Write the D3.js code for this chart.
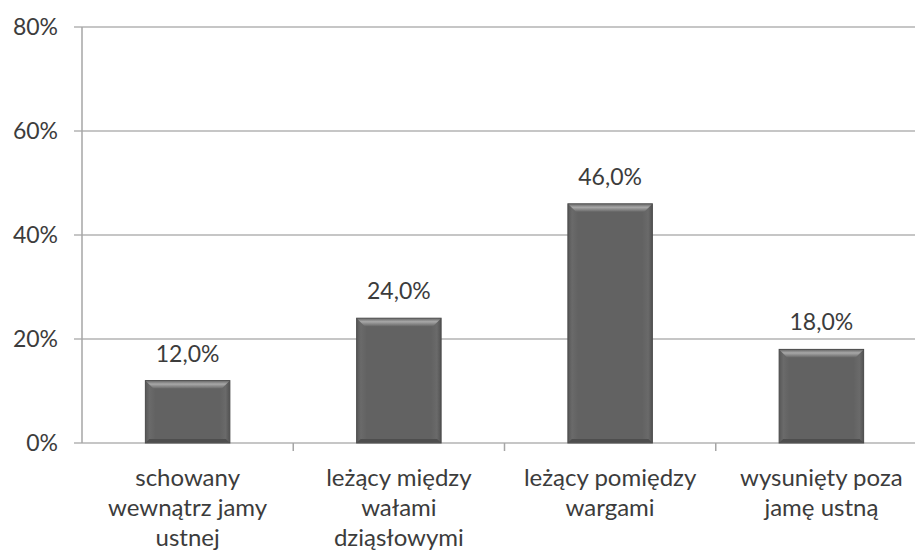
<!DOCTYPE html>
<html>
<head>
<meta charset="utf-8">
<script src="https://cdn.jsdelivr.net/npm/d3@7"></script>
<style>
  html, body { margin: 0; padding: 0; background: #ffffff; }
  svg { display: block; }
  text { font-family: Lato, "Open Sans", sans-serif; fill: #3c3c3c; }
</style>
</head>
<body>
<svg id="chart" width="915" height="552"></svg>
<script>
// Position of the tongue (percentage of subjects)
const categories = [
  ["schowany", "wewnątrz jamy", "ustnej"],
  ["leżący między", "wałami", "dziąsłowymi"],
  ["leżący pomiędzy", "wargami"],
  ["wysunięty poza", "jamę ustną"]
];
const values = [12.0, 24.0, 46.0, 18.0];
const yTicks = [0, 20, 40, 60, 80];

const svg = d3.select("#chart");
const plotLeft = 82, plotRight = 927, plotTop = 27, plotBottom = 443;

const x = d3.scaleBand()
  .domain(d3.range(categories.length))
  .range([plotLeft, plotRight])
  .paddingInner(0.6)
  .paddingOuter(0.3);

const xTick = d3.scaleBand()
  .domain(d3.range(categories.length))
  .range([plotLeft, plotRight]);

const y = d3.scaleLinear().domain([0, 80]).range([plotBottom, plotTop]);

// gradients for the bevelled bars
const defs = svg.append("defs");
const body = defs.append("linearGradient").attr("id", "barBody")
  .attr("x1", 0).attr("x2", 1).attr("y1", 0).attr("y2", 0);
body.append("stop").attr("offset", "0%").attr("stop-color", "#575757");
body.append("stop").attr("offset", "5%").attr("stop-color", "#6a6a6a");
body.append("stop").attr("offset", "12%").attr("stop-color", "#626262");
body.append("stop").attr("offset", "88%").attr("stop-color", "#626262");
body.append("stop").attr("offset", "95%").attr("stop-color", "#6a6a6a");
body.append("stop").attr("offset", "100%").attr("stop-color", "#525252");

const topBevel = defs.append("linearGradient").attr("id", "barTop")
  .attr("x1", 0).attr("x2", 0).attr("y1", 0).attr("y2", 1);
topBevel.append("stop").attr("offset", "0%").attr("stop-color", "#6e6e6e");
topBevel.append("stop").attr("offset", "40%").attr("stop-color", "#a8a8a8");
topBevel.append("stop").attr("offset", "100%").attr("stop-color", "#686868");

// gridlines
svg.append("g")
  .selectAll("line")
  .data(yTicks)
  .join("line")
  .attr("x1", plotLeft - 8).attr("x2", 915)
  .attr("y1", d => y(d)).attr("y2", d => y(d))
  .attr("stroke", "#b3b3b3").attr("stroke-width", 1.5);

// y axis line
svg.append("line")
  .attr("x1", plotLeft).attr("x2", plotLeft)
  .attr("y1", plotTop).attr("y2", plotBottom)
  .attr("stroke", "#a6a6a6").attr("stroke-width", 1.5);

// category tick marks
svg.append("g")
  .selectAll("line")
  .data(d3.range(1, categories.length))
  .join("line")
  .attr("x1", d => xTick(d)).attr("x2", d => xTick(d))
  .attr("y1", plotBottom).attr("y2", plotBottom + 8)
  .attr("stroke", "#a6a6a6").attr("stroke-width", 1.5);

// y tick labels
svg.append("g")
  .selectAll("text")
  .data(yTicks)
  .join("text")
  .attr("x", 58)
  .attr("y", d => y(d) + 8)
  .attr("text-anchor", "end")
  .attr("font-size", 23)
  .text(d => d + "%");

// bars
const bars = svg.append("g")
  .selectAll("g")
  .data(values)
  .join("g");

const bw = x.bandwidth();
const bev = 8;

bars.append("rect")
  .attr("x", (d, i) => x(i))
  .attr("y", d => y(d))
  .attr("width", bw)
  .attr("height", d => y(0) - y(d))
  .attr("fill", "url(#barBody)")
  .attr("stroke", "#4a4a4a")
  .attr("stroke-width", 1);

bars.append("path")
  .attr("d", (d, i) => {
    const x0 = x(i), x1 = x(i) + bw, y0 = y(d);
    return `M${x0 + 0.5},${y0 + 0.5} L${x1 - 0.5},${y0 + 0.5} L${x1 - bev},${y0 + bev} L${x0 + bev},${y0 + bev} Z`;
  })
  .attr("fill", "url(#barTop)");

bars.append("path")
  .attr("d", (d, i) => {
    const x0 = x(i), x1 = x(i) + bw, y1 = y(0);
    return `M${x0 + 0.5},${y1 - 0.5} L${x1 - 0.5},${y1 - 0.5} L${x1 - 4},${y1 - 4} L${x0 + 4},${y1 - 4} Z`;
  })
  .attr("fill", "#4e4e4e");

// value labels
bars.append("text")
  .attr("x", (d, i) => x(i) + bw / 2)
  .attr("y", d => y(d) - 19)
  .attr("text-anchor", "middle")
  .attr("font-size", 23)
  .text(d => d.toFixed(1).replace(".", ",") + "%");

// category labels
svg.append("g")
  .selectAll("text")
  .data(categories)
  .join("text")
  .attr("text-anchor", "middle")
  .attr("font-size", 24)
  .attr("x", (d, i) => xTick(i) + xTick.bandwidth() / 2)
  .attr("y", 486)
  .selectAll("tspan")
  .data(d => d)
  .join("tspan")
  .attr("x", function () { return this.parentNode.getAttribute("x"); })
  .attr("dy", (d, j) => j === 0 ? 0 : 30)
  .text(d => d);
</script>
</body>
</html>
